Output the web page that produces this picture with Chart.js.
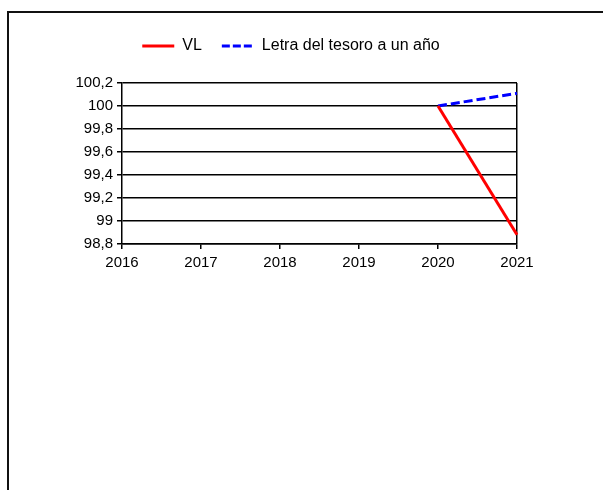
<!DOCTYPE html>
<html>
<head>
<meta charset="utf-8">
<script src="https://cdn.jsdelivr.net/npm/chart.js@4/dist/chart.umd.min.js"></script>
<style>
  html, body { margin: 0; padding: 0; background: #fff; overflow: hidden; }
  #wrap { position: relative; width: 603px; height: 490px; }
  #frame { position: absolute; left: 7px; top: 11px; width: 700px; height: 600px;
           border-top: 2px solid #111; border-left: 2px solid #111; }
  canvas { position: absolute; left: 0; top: 0; }
</style>
</head>
<body>
<div id="wrap">
  <div id="frame"></div>
  <canvas id="chart" width="603" height="490"></canvas>
</div>
<script>
// years on the x axis
const years = ['2016', '2017', '2018', '2019', '2020', '2021'];
// VL series (only 2020-2021 have values)
const vl = [null, null, null, null, 100, 98.88];
// one-year treasury bill
const letra = [null, null, null, null, 100, 100.11];
const seriesNames = ['VL', 'Letra del tesoro a un año'];
const yMin = 98.8, yMax = 100.2, yStep = 0.2;

const font = { family: "'Liberation Sans', Arial, sans-serif", size: 15 };

const ctx = document.getElementById('chart').getContext('2d');
const chart = new Chart(ctx, {
  type: 'line',
  data: {
    labels: years,
    datasets: [
      {
        label: seriesNames[0],
        data: vl,
        borderColor: '#ff0000',
        backgroundColor: '#ff0000',
        borderWidth: 3,
        pointRadius: 0,
        tension: 0
      },
      {
        label: seriesNames[1],
        data: letra,
        borderColor: '#0000ff',
        backgroundColor: '#0000ff',
        borderWidth: 3,
        borderDash: [9, 4],
        pointRadius: 0,
        tension: 0
      }
    ]
  },
  options: {
    responsive: false,
    animation: false,
    layout: { padding: { left: 65, right: 86, top: 18, bottom: 216 } },
    plugins: {
      tooltip: { enabled: false },
      legend: {
        position: 'top',
        labels: {
          color: '#000',
          font: { family: font.family, size: 16 },
          usePointStyle: true,
          pointStyle: 'line',
          pointStyleWidth: 32,
          padding: 20,
          // point style legend loses the dataset dash, put it back
          generateLabels: (c) => {
            const items = Chart.defaults.plugins.legend.labels.generateLabels(c);
            items.forEach((it) => {
              const ds = c.data.datasets[it.datasetIndex];
              it.lineDash = ds.borderDash ? [8, 3] : [];
              it.lineWidth = 3;
              it.strokeStyle = ds.borderColor;
            });
            return items;
          }
        }
      }
    },
    scales: {
      x: {
        type: 'category',
        offset: false,
        grid: {
          color: (c) => (c.index === years.length - 1 ? '#000' : 'rgba(0,0,0,0)'),
          tickColor: '#000',
          tickLength: 5,
          lineWidth: 1.5
        },
        border: { display: true, color: '#000', width: 1.5 },
        ticks: { color: '#000', font: font, padding: 5, maxRotation: 0, autoSkip: false },
        afterFit: (s) => { s.height = 30; }
      },
      // empty spacer between legend and plot
      x2: {
        type: 'category',
        position: 'top',
        grid: { display: false },
        border: { display: false },
        ticks: { display: false },
        afterFit: (s) => { s.height = 19; }
      },
      y: {
        min: yMin,
        max: yMax,
        grid: { color: '#000', tickColor: '#000', tickLength: 5, lineWidth: 1.5 },
        border: { display: true, color: '#000', width: 1.5 },
        ticks: {
          stepSize: yStep,
          color: '#000',
          font: font,
          padding: 4,
          callback: (v) => String(Number(v.toFixed(1))).replace('.', ',')
        },
        afterFit: (s) => { s.width = 57; }
      }
    }
  }
});
</script>
</body>
</html>
